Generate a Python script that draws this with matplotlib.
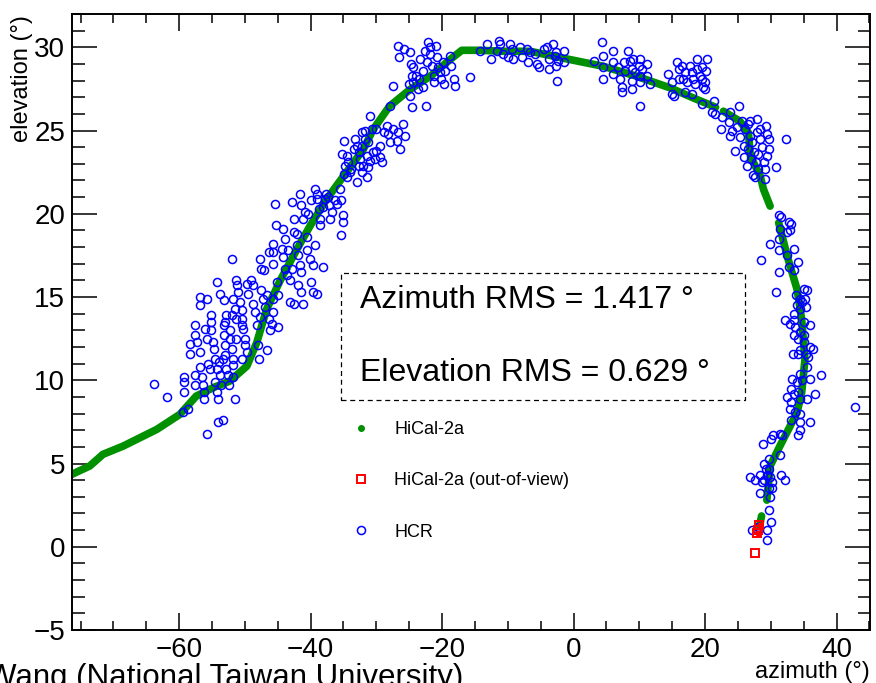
import numpy as np
import matplotlib
matplotlib.use("Agg")
import matplotlib.pyplot as plt
from matplotlib.lines import Line2D
from matplotlib.patches import Rectangle
from matplotlib.ticker import MultipleLocator

plt.rcParams['font.family'] = ['Liberation Sans', 'DejaVu Sans']

# HiCal-2a track (azimuth, elevation), nan = gap in the track
hical_az = [-76.6, -73.6, -71.6, -68.5, -63.4, -59.9, -57.4, -54.8, -52.3, -49.7, -48.2, -46.7,
            -44.7, -42.1, -40.1, -37.6, -35.0, -32.0, -30.5, -28.0, -24.9, -21.8, -18.8, -17.0,
            -14.2, -10.7, -6.6, -0.5, 4.5, 9.6, 14.7, 18.2, 21.6, np.nan,
            22.8, 25.3, 26.6, 26.9, 28.4, 28.9, 29.9, np.nan,
            31.2, 32.5, 34.0, 34.7, 35.2, 34.7, 34.0, 32.7, 31.4, 29.9, 29.4, np.nan,
            28.6, 28.3]
hical_el = [4.3, 4.85, 5.55, 6.05, 7.05, 7.95, 9.05, 9.56, 9.95, 10.85, 12.26, 14.26,
            15.94, 17.86, 19.26, 20.86, 22.26, 23.86, 25.06, 26.46, 27.46, 28.26, 29.26, 29.82,
            29.82, 29.76, 29.76, 29.26, 28.86, 28.26, 27.56, 26.96, 26.4, np.nan,
            26.16, 25.56, 24.86, 23.46, 22.26, 21.46, 20.46, np.nan,
            19.46, 17.46, 15.46, 13.66, 11.26, 9.26, 8.06, 7.06, 6.06, 4.85, 2.8, np.nan,
            1.85, 1.25]

# HiCal-2a out-of-view
oov_az = [28.2, 28.0, 27.9, 27.6]
oov_el = [1.3, 1.0, 0.8, -0.4]
oov_dot_az = [28.3, 28.0]
oov_dot_el = [1.3, 0.8]

# HCR reconstructed directions, grouped along the path
hcr_lower = [
    (-63.8, 9.8), (-61.9, 9.0), (-59.3, 10.2), (-59.3, 9.9), (-59.3, 9.3), (-59.4, 8.1), (-58.6, 8.3),
    (-57.6, 10.3), (-57.6, 9.7), (-58.4, 12.2), (-58.4, 11.6), (-57.6, 13.3), (-57.6, 12.7), (-57.3, 12.3),
    (-56.9, 11.7), (-56.8, 10.8), (-56.6, 10.2), (-56.4, 9.7), (-56.2, 9.3), (-56.2, 8.9), (-56.1, 13.1),
    (-55.8, 12.5), (-55.6, 11.0), (-55.3, 10.7), (-55.2, 13.9), (-55.1, 13.5), (-55.1, 13.0), (-54.9, 12.3),
    (-54.7, 11.9), (-54.6, 11.3), (-54.6, 9.9), (-54.3, 10.7), (-54.3, 9.3), (-54.1, 8.9), (-53.9, 11.1),
    (-53.8, 10.3), (-53.6, 9.7), (-53.3, 11.3), (-53.2, 12.7), (-53.2, 13.3), (-53.0, 12.1), (-53.0, 11.5),
    (-52.8, 10.7), (-52.5, 10.3), (-52.4, 9.7), (-52.3, 13.0), (-52.2, 12.5), (-52.0, 11.9), (-51.8, 11.3),
    (-51.8, 10.9), (-51.8, 10.2), (-51.5, 8.9), (-54.1, 7.5), (-53.3, 7.6), (-55.7, 6.8), (-56.8, 14.5),
    (-56.8, 15.0), (-55.8, 14.9), (-54.3, 15.9), (-53.8, 15.2), (-53.2, 14.8), (-51.8, 14.9), (-51.5, 14.3),
    (-51.3, 16.0), (-51.2, 15.7), (-51.0, 15.3), (-50.8, 14.7), (-50.5, 14.2), (-50.4, 13.7), (-50.4, 13.3),
    (-50.3, 13.1), (-50.0, 12.5), (-50.0, 12.1), (-49.7, 11.7), (-50.5, 11.3), (-51.3, 12.5), (-51.3, 13.7),
    (-52.0, 13.9), (-52.8, 13.9), (-53.0, 13.5), (-49.7, 15.8), (-49.5, 15.2), (-49.0, 16.0), (-48.8, 15.7),
    (-48.7, 14.6), (-48.5, 14.1), (-48.2, 13.3), (-48.0, 12.1), (-47.8, 11.3), (-47.7, 13.8), (-47.5, 15.4),
    (-47.2, 14.9), (-47.0, 14.4), (-46.7, 15.1), (-46.4, 13.7), (-46.2, 13.0), (-45.9, 13.4), (-45.7, 14.1),
    (-45.7, 14.9), (-46.7, 11.8), (-52.0, 17.3), (-47.7, 17.3), (-47.6, 16.7), (-47.1, 16.6), (-45.7, 17.0),
    (-45.1, 15.9), (-44.9, 15.1), (-44.9, 13.2),
]
hcr_mid = [
    (-45.8, 18.2), (-45.7, 17.7), (-46.4, 17.7), (-45.2, 19.3), (-45.4, 20.6), (-44.2, 19.1), (-43.9, 18.5),
    (-44.4, 17.9), (-44.2, 17.4), (-43.4, 17.8), (-43.9, 16.7), (-43.6, 16.3), (-42.9, 16.7), (-43.1, 16.0),
    (-42.6, 19.7), (-42.6, 18.9), (-42.1, 18.8), (-42.9, 20.7), (-41.6, 21.2), (-41.5, 20.5), (-42.1, 18.1),
    (-41.9, 17.5), (-41.6, 16.9), (-41.4, 16.5), (-41.9, 15.7), (-41.4, 15.3), (-41.1, 14.6), (-43.1, 14.7),
    (-42.6, 14.6), (-41.1, 19.7), (-40.9, 20.1), (-40.6, 18.6), (-40.4, 20.0), (-40.6, 17.8), (-40.1, 17.3),
    (-39.9, 15.9), (-39.6, 15.3), (-39.3, 18.1), (-39.1, 15.2), (-39.6, 16.9), (-38.1, 16.8), (-39.9, 20.8),
    (-39.3, 21.5), (-39.1, 21.2), (-39.0, 20.9), (-38.8, 20.3), (-38.6, 19.7), (-38.5, 19.3), (-38.1, 20.4),
    (-37.8, 20.9), (-37.6, 21.2), (-37.3, 21.0), (-37.1, 19.7), (-36.8, 20.1), (-37.2, 20.5), (-36.3, 20.8),
    (-36.0, 20.6), (-35.6, 21.5), (-35.4, 20.8), (-35.1, 19.9), (-35.0, 19.5), (-35.4, 18.7), (-35.2, 23.6),
    (-34.9, 24.4), (-34.5, 23.5), (-34.3, 23.1), (-34.8, 22.9), (-34.9, 22.4), (-34.4, 22.2), (-34.0, 22.5),
    (-33.8, 22.7), (-33.4, 23.9), (-33.3, 24.5), (-33.0, 24.1), (-32.7, 23.7), (-32.5, 23.3), (-32.7, 22.9),
    (-32.9, 21.9), (-32.2, 22.5), (-32.0, 22.9), (-31.5, 23.5), (-31.4, 22.2), (-31.2, 22.8), (-31.0, 23.2),
    (-30.5, 23.7), (-30.2, 23.3), (-30.0, 23.8), (-29.5, 23.4), (-29.2, 23.1), (-28.9, 24.9), (-28.4, 25.3),
    (-28.2, 24.8), (-27.9, 24.3), (-27.4, 25.1), (-26.9, 24.4), (-26.7, 24.9), (-26.4, 23.9), (-25.9, 25.4),
    (-25.6, 24.7), (-32.2, 24.9), (-31.7, 25.0), (-31.2, 24.3), (-30.7, 25.1), (-30.0, 25.1), (-29.5, 24.1),
    (-32.2, 24.1), (-31.7, 24.5),
]
hcr_top = [
    (-26.7, 30.1), (-26.5, 29.4), (-25.8, 29.9), (-24.9, 29.7), (-24.7, 29.0), (-24.6, 28.3), (-24.5, 27.9),
    (-25.1, 27.8), (-24.9, 27.1), (-24.6, 26.4), (-23.6, 27.5), (-23.5, 28.1), (-23.3, 29.3), (-22.9, 28.6),
    (-22.6, 29.8), (-22.3, 29.1), (-22.1, 30.3), (-21.8, 30.0), (-21.8, 29.6), (-21.6, 28.9), (-21.3, 28.3),
    (-21.2, 27.9), (-20.9, 30.1), (-20.8, 29.4), (-20.6, 28.8), (-20.3, 28.5), (-20.1, 28.1), (-19.8, 29.1),
    (-19.6, 28.6), (-19.7, 27.8), (-18.8, 29.5), (-18.7, 28.9), (-18.2, 28.1), (-18.0, 27.7), (-15.8, 28.2),
    (-22.4, 26.5), (-22.9, 27.6), (-24.0, 28.3), (-24.4, 28.8), (-27.5, 27.7), (-27.9, 26.5), (-31.0, 25.9),
    (-13.2, 30.2), (-12.5, 29.3), (-11.4, 30.4), (-11.2, 30.2), (-11.7, 29.8), (-10.7, 29.6), (-9.7, 30.2),
    (-9.4, 29.9), (-9.9, 29.4), (-9.2, 29.3), (-14.3, 29.8),
]
hcr_right = [
    (-8.1, 30.0), (-7.9, 29.4), (-7.1, 29.9), (-6.9, 29.1), (-6.6, 29.7), (-5.9, 29.6), (-5.6, 29.0),
    (-5.3, 28.8), (-4.5, 29.9), (-4.1, 30.0), (-3.8, 29.3), (-3.8, 28.7), (-3.1, 30.2), (-2.8, 29.5),
    (-2.6, 29.7), (-2.6, 28.9), (-2.3, 29.2), (-1.5, 29.8), (-1.4, 29.1), (-2.5, 28.0), (4.3, 30.3),
    (4.5, 29.5), (3.1, 29.2), (4.5, 28.8), (4.5, 28.1), (6.0, 29.8), (6.0, 29.1), (6.0, 28.4),
    (6.8, 28.8), (7.0, 28.1), (7.3, 27.6), (7.3, 27.3), (7.6, 29.1), (7.8, 28.6), (8.3, 29.8),
    (8.6, 29.2), (8.9, 28.7), (8.9, 28.0), (8.9, 27.5), (9.1, 29.3), (9.4, 28.5), (9.9, 28.9),
    (10.1, 29.3), (10.1, 28.3), (10.1, 27.9), (10.1, 26.5), (10.4, 28.7), (11.1, 29.0), (11.2, 28.3),
    (11.6, 27.8), (14.4, 28.4), (14.9, 27.9), (14.9, 27.2), (15.3, 27.1), (15.7, 29.1), (16.0, 28.1),
    (16.1, 28.7), (16.5, 28.9), (16.7, 28.1), (17.0, 28.5), (17.2, 27.9), (17.7, 28.9), (18.0, 28.5),
    (18.2, 28.1), (18.5, 27.8), (18.8, 29.3), (18.8, 28.7), (19.3, 28.3), (19.5, 28.8), (19.5, 28.1),
    (19.7, 27.6), (20.0, 27.9), (20.0, 27.5), (20.2, 28.6), (20.3, 29.3),
]
hcr_bend = [
    (17.0, 27.3), (18.0, 27.2), (19.5, 26.6), (21.3, 26.8), (21.0, 26.1), (21.5, 26.0), (22.4, 25.1),
    (22.6, 25.8), (23.6, 25.5), (23.8, 24.7), (23.8, 26.1), (24.1, 25.0), (24.6, 23.8), (24.9, 25.2),
    (25.1, 26.5), (25.3, 24.6), (25.6, 25.6), (25.9, 24.1), (25.9, 23.4), (26.1, 25.1), (26.4, 22.9),
    (26.5, 23.9), (26.6, 25.4), (26.8, 24.7), (26.9, 25.6), (27.0, 23.3), (27.1, 24.3), (27.3, 22.3),
    (27.4, 23.7), (27.6, 22.2), (27.8, 23.1), (27.9, 24.9), (27.9, 25.7), (28.0, 22.7), (28.1, 23.6),
    (28.3, 24.5), (28.4, 25.1), (28.6, 24.0), (28.9, 23.1), (29.1, 22.1), (29.1, 22.7), (29.3, 25.3),
    (29.4, 23.5), (29.5, 24.8), (29.7, 23.9), (29.7, 24.5), (30.8, 22.8), (32.3, 24.5), (31.2, 19.9),
    (31.6, 19.8),
]
hcr_descent = [
    (32.7, 19.5), (33.1, 19.4), (31.4, 19.1), (32.4, 18.9), (32.9, 19.0), (29.9, 18.2), (31.3, 18.5),
    (31.3, 17.8), (32.5, 17.5), (32.7, 16.8), (33.6, 17.9), (34.1, 17.1), (33.5, 16.6), (28.5, 17.2),
    (31.2, 16.5), (30.8, 15.3), (35.1, 15.5), (35.5, 15.4), (33.9, 15.1), (34.5, 14.9), (35.2, 14.9),
    (34.7, 14.7), (34.0, 14.5), (35.4, 14.4), (34.5, 14.3), (33.6, 14.0), (32.2, 13.6), (32.9, 13.4),
    (33.6, 13.6), (33.7, 13.2), (35.0, 13.5), (36.0, 13.3), (34.5, 12.9), (33.5, 12.7), (34.2, 12.5),
    (35.1, 12.7), (35.0, 12.3), (35.9, 12.0), (36.4, 11.9), (34.5, 11.8), (33.4, 11.6), (34.2, 11.6),
    (35.4, 11.6), (35.7, 11.4), (35.5, 10.8), (34.5, 10.4), (37.6, 10.3), (33.2, 10.1), (34.0, 9.9),
    (34.7, 10.0), (35.9, 10.1), (33.0, 9.5), (33.5, 9.2), (34.2, 9.3), (32.5, 9.0), (33.0, 8.7),
    (34.5, 8.9), (35.5, 8.9), (36.8, 9.2), (32.9, 8.3), (33.7, 8.1), (34.5, 8.0), (33.0, 7.6),
    (34.5, 7.5), (35.9, 7.5), (34.5, 7.0), (34.1, 6.7), (31.4, 6.8), (31.7, 6.7), (30.4, 6.7),
    (30.0, 6.5), (28.8, 6.2), (31.4, 5.5), (29.8, 5.3), (28.9, 5.0), (29.2, 4.7), (29.7, 4.7),
    (26.9, 4.2), (27.6, 4.0), (28.4, 4.3), (28.6, 3.9), (29.0, 4.0), (29.4, 4.3), (29.9, 4.2),
    (30.2, 3.9), (31.5, 4.3), (32.2, 4.0), (28.3, 3.2), (29.7, 3.5), (30.2, 3.5), (29.9, 3.0),
    (29.7, 2.2), (30.0, 1.5), (27.1, 1.0), (29.45, 1.0), (29.4, 0.4), (28.0, 1.2), (42.8, 8.4),
]

az_rms = 1.417
el_rms = 0.629

green = '#009000'

fig = plt.figure(figsize=(8.76, 6.83), dpi=100)
ax = fig.add_axes([0.0822, 0.0776, 0.9110, 0.9019])

ax.plot(hical_az, hical_el, color=green, lw=5.5, solid_capstyle='round', zorder=2)

hcr = np.array(hcr_lower + hcr_mid + hcr_top + hcr_right + hcr_bend + hcr_descent)
ax.plot(hcr[:, 0], hcr[:, 1], ls='none', marker='o', ms=5.8, mfc='none', mec='#0000ff', mew=1.1, zorder=3)

ax.plot(oov_az, oov_el, ls='none', marker='s', ms=5.5, mfc='none', mec='#ff0000', mew=1.4, zorder=4)
ax.plot(oov_dot_az, oov_dot_el, ls='none', marker='o', ms=3.5, color='#ff0000', zorder=4)

ax.set_xlim(-76.3, 45.1)
ax.set_ylim(-5, 32)

ax.xaxis.set_major_locator(MultipleLocator(20))
ax.xaxis.set_minor_locator(MultipleLocator(5))
ax.yaxis.set_major_locator(MultipleLocator(5))
ax.yaxis.set_minor_locator(MultipleLocator(1))
ax.tick_params(which='both', direction='in', top=True, right=True, width=1.1, labelsize=20)
ax.tick_params(axis='x', which='major', length=12.5, pad=5)
ax.tick_params(axis='x', which='minor', length=6.5)
ax.tick_params(axis='y', which='major', length=18, pad=5)
ax.tick_params(axis='y', which='minor', length=9)
for s in ax.spines.values():
    s.set_linewidth(1.4)

fig.text(0.025, 0.978, 'elevation (°)', rotation=90, ha='center', va='top', fontsize=17)
fig.text(0.9932, 0.008, 'azimuth (°)', ha='right', va='baseline', fontsize=17)
# credit line, cut by the figure edge as in the original
fig.text(0.529, -0.004, 'Wang (National Taiwan University)', ha='right', va='baseline', fontsize=22.5)

# RMS box
ax.add_patch(Rectangle((0.337, 0.3734), 0.5064, 0.2061, transform=ax.transAxes, fill=False,
                       lw=0.9, ls=(0, (4, 3)), color='black', zorder=5))
ax.text(0.361, 0.5357, 'Azimuth RMS = %.3f °' % az_rms, transform=ax.transAxes,
        fontsize=23, va='center', ha='left', zorder=6)
ax.text(0.361, 0.417, 'Elevation RMS = %.3f °' % el_rms, transform=ax.transAxes,
        fontsize=23, va='center', ha='left', zorder=6)

handles = [
    Line2D([], [], ls='none', marker='o', ms=4, color=green),
    Line2D([], [], ls='none', marker='s', ms=5.5, mfc='none', mec='#ff0000', mew=1.4),
    Line2D([], [], ls='none', marker='o', ms=5.8, mfc='none', mec='#0000ff', mew=1.1),
]
labels = ['HiCal-2a', 'HiCal-2a (out-of-view)', 'HCR']
ax.legend(handles, labels, loc='upper left', bbox_to_anchor=(0.351, 0.339), frameon=False,
          fontsize=13, handlelength=1.0, handletextpad=1.33, labelspacing=1.9,
          borderpad=0, borderaxespad=0)

fig.savefig('out.png', dpi=100)
